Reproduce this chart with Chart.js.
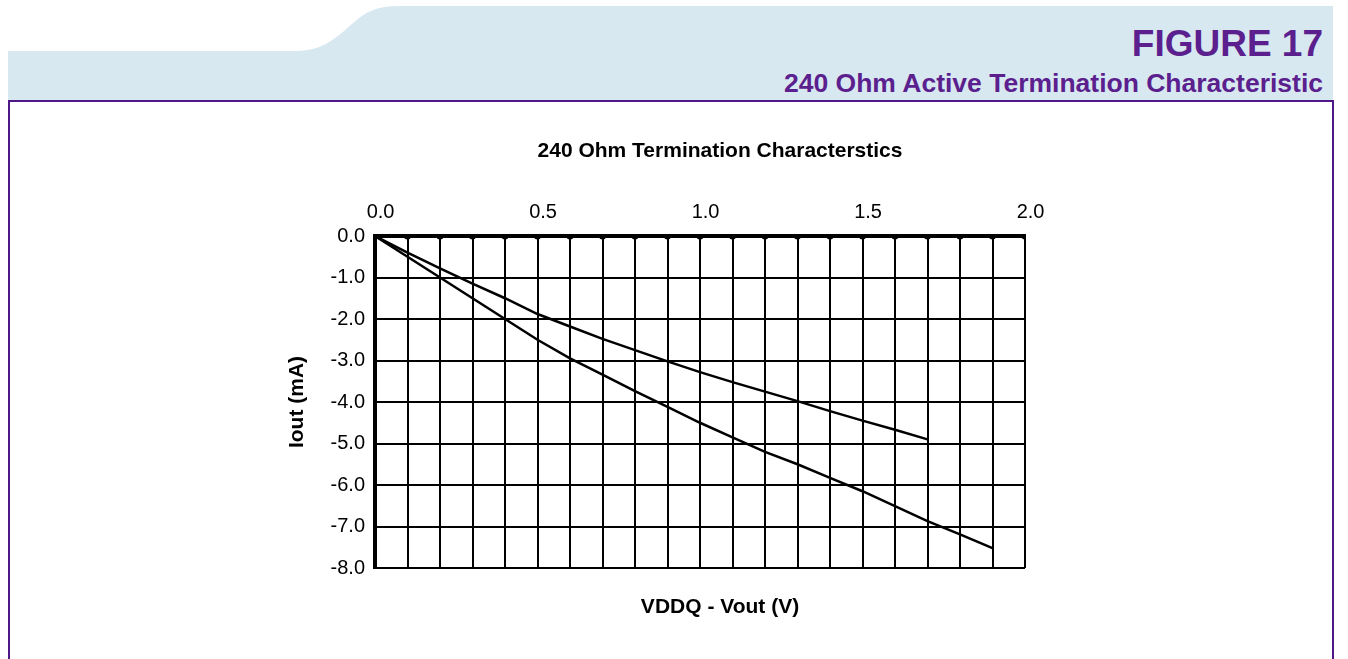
<!DOCTYPE html>
<html>
<head>
<meta charset="utf-8">
<script src="https://cdn.jsdelivr.net/npm/chart.js@4"></script>
<style>
  body { margin: 0; background: #fff; font-family: "Liberation Sans", Arial, sans-serif; }
  #page { position: relative; width: 1348px; height: 659px; overflow: hidden; }
  #header { position: absolute; left: 0; top: 0; }
  .fig { position: absolute; right: 25px; color: #5b1f8e; font-weight: bold; text-align: right; white-space: nowrap; }
  #figNum { top: 23px; font-size: 37px; }
  #figSub { top: 68px; font-size: 26.5px; }
  #frame { position: absolute; left: 8px; top: 100px; width: 1322px; height: 580px; border: 2px solid #4e1886; }
  #chartBox { position: absolute; left: 280px; top: 120px; }
</style>
</head>
<body>
<div id="page">
  <svg id="header" width="1348" height="102">
    <path d="M8,51 L296,51 C324,51 338,36 352,24 C366,11 378,6 398,6 L1333,6 L1333,101 L8,101 Z" fill="#d8e8f1"/>
  </svg>
  <div class="fig" id="figNum">FIGURE 17</div>
  <div class="fig" id="figSub">240 Ohm Active Termination Characteristic</div>
  <div id="frame"></div>
  <div id="chartBox"><canvas id="chart" width="880" height="520"></canvas></div>
</div>
<script>
// VDDQ - Vout (V), one reading every 0.1 V
const voltage = [0.0, 0.1, 0.2, 0.3, 0.4, 0.5, 0.6, 0.7, 0.8, 0.9, 1.0,
                 1.1, 1.2, 1.3, 1.4, 1.5, 1.6, 1.7, 1.8, 1.9, 2.0];
// Iout (mA)
const upperCurrent = [0, -0.40, -0.78, -1.15, -1.50, -1.88, -2.18, -2.48, -2.75, -3.02,
                      -3.28, -3.52, -3.75, -3.98, -4.22, -4.45, -4.67, -4.90];
const lowerCurrent = [0, -0.50, -1.00, -1.50, -2.00, -2.50, -2.95, -3.34, -3.74, -4.12,
                      -4.50, -4.85, -5.20, -5.50, -5.83, -6.15, -6.51, -6.87, -7.19, -7.52];
const zeroCurrent = voltage.map(() => 0);
const xTickLabels = ['0.0', '0.5', '1.0', '1.5', '2.0'];

const toPoints = ys => ys.map((y, i) => ({ x: voltage[i], y: y }));

const lineStyle = {
    borderColor: '#000',
    borderWidth: 2.5,
    pointRadius: 0,
    fill: false,
    tension: 0,
    yAxisID: 'y'
};

const ctx = document.getElementById('chart').getContext('2d');
new Chart(ctx, {
    type: 'line',
    data: {
        datasets: [
            Object.assign({ label: 'upper', data: toPoints(upperCurrent) }, lineStyle),
            Object.assign({ label: 'lower', data: toPoints(lowerCurrent) }, lineStyle),
            {
                label: 'zero',
                data: toPoints(zeroCurrent),
                borderColor: '#000',
                backgroundColor: '#000',
                borderWidth: 0,
                pointRadius: 3.5,
                pointHoverRadius: 3.5,
                showLine: false,
                clip: 0,
                yAxisID: 'y'
            }
        ]
    },
    options: {
        responsive: false,
        animation: false,
        devicePixelRatio: 1,
        layout: { padding: 0 },
        plugins: {
            legend: { display: false },
            tooltip: { enabled: false },
            title: {
                display: true,
                text: '240 Ohm Termination Characterstics',
                color: '#000',
                font: { family: 'Liberation Sans', size: 21, weight: 'bold' },
                padding: { top: 19, bottom: 6 }
            },
            subtitle: {
                display: true,
                position: 'bottom',
                text: 'VDDQ - Vout (V)',
                color: '#000',
                font: { family: 'Liberation Sans', size: 21, weight: 'bold' },
                padding: { top: 26.4, bottom: 20.4 }
            }
        },
        scales: {
            x: {
                type: 'linear',
                position: 'top',
                min: 0,
                max: 2,
                afterFit: s => { s.height = 65.8; },
                ticks: {
                    stepSize: 0.1,
                    autoSkip: false,
                    maxRotation: 0,
                    padding: 12,
                    color: '#000',
                    font: { family: 'Liberation Sans', size: 20 },
                    callback: v => {
                        const label = v.toFixed(1);
                        // leading spaces nudge the label right of its gridline, as in the source
                        return xTickLabels.includes(label) ? '  ' + label : '';
                    }
                },
                grid: { color: '#000', lineWidth: 2, drawTicks: false },
                border: { color: '#000', width: 4 }
            },
            y: {
                type: 'linear',
                position: 'left',
                min: -8,
                max: 0,
                afterFit: s => { s.width = 95; },
                ticks: {
                    stepSize: 1,
                    padding: 10,
                    color: '#000',
                    font: { family: 'Liberation Sans', size: 20 },
                    callback: v => v.toFixed(1)
                },
                grid: { color: '#000', lineWidth: 2, drawTicks: false },
                border: { color: '#000', width: 4 },
                title: {
                    display: true,
                    text: 'Iout (mA)',
                    color: '#000',
                    font: { family: 'Liberation Sans', size: 21, weight: 'bold' },
                    padding: { top: 5, bottom: 0 }
                }
            },
            yRight: {
                type: 'linear',
                position: 'right',
                min: -8,
                max: 0,
                afterFit: s => { s.width = 135; },
                ticks: { display: false },
                grid: { display: false, drawTicks: false },
                border: { display: false }
            }
        }
    }
});
</script>
</body>
</html>
